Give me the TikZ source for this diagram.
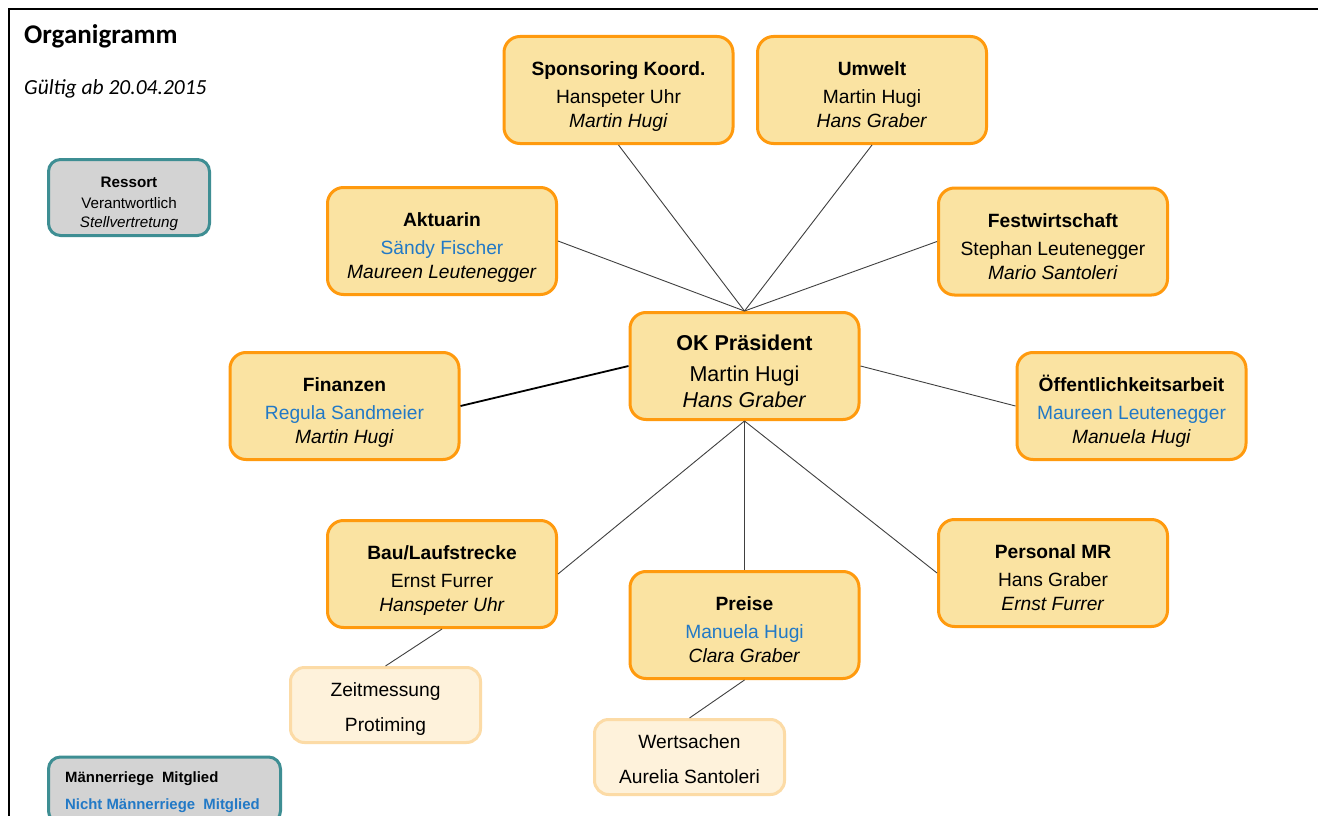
\documentclass[tikz,border=0pt]{standalone}
\usepackage{fontspec}
\setmainfont{Liberation Sans}
\newfontfamily\calibri{Carlito}
\definecolor{boxfill}{HTML}{FAE3A2}
\definecolor{boxline}{HTML}{FF9A0E}
\definecolor{subfill}{HTML}{FEF2DB}
\definecolor{subline}{HTML}{FCDBA6}
\definecolor{legfill}{HTML}{D3D3D3}
\definecolor{legline}{HTML}{3E8E93}
\definecolor{nmblue}{HTML}{2279C6}
\definecolor{conn}{HTML}{404040}
% three-line box text: lowered by #1, gap after title #2
\newcommand\orgthree[5]{\raisebox{-#1}[\height][\depth]{\begin{tabular}{@{}c@{}}\textbf{#3}\\[#2]#4\\\textit{#5}\end{tabular}}}
\newcommand\orgtwo[3]{\raisebox{-#1}[\height][\depth]{\begin{tabular}{@{}c@{}}#2\\#3\end{tabular}}}
\begin{document}
\begin{tikzpicture}[x=1pt,y=-1pt,
  mainbox/.style={draw=boxline,fill=boxfill,line width=3pt,rounded corners=16pt,
    minimum width=229pt,minimum height=107pt,align=center,inner sep=0pt,
    font=\fontsize{19.2}{24}\selectfont},
  subbox/.style={draw=subline,fill=subfill,line width=3pt,rounded corners=14pt,
    minimum width=190pt,minimum height=75pt,align=center,inner sep=0pt,
    font=\fontsize{19.2}{35}\selectfont},
  legbox/.style={draw=legline,fill=legfill,line width=3pt,rounded corners=12pt,inner sep=0pt},
  link/.style={draw=conn,line width=0.9pt},
]
\useasboundingbox (0,0) rectangle (1318,816);
\fill[white] (0,0) rectangle (1318,816);
% frame
\draw[line width=2.5pt] (9,820) -- (9,9) -- (1320,9);

% title
\node[anchor=west,font=\calibri\bfseries\fontsize{27}{32}\selectfont,inner sep=0pt] (title) at (24,36) {Organigramm};
\node[anchor=west,font=\calibri\itshape\fontsize{21.5}{26}\selectfont,inner sep=0pt] (valid) at (24,89) {Gültig ab 20.04.2015};

% legends
\node[legbox,minimum width=161pt,minimum height=76pt,align=center,font=\fontsize{15.2}{19.5}\selectfont] (legres) at (129,197.5)
  {\orgthree{6pt}{1.5pt}{Ressort}{Verantwortlich}{Stellvertretung}};
\node[legbox,minimum width=232pt,minimum height=66pt] (legmr) at (164.5,790) {};
\node[anchor=west,inner sep=0pt,font=\bfseries\fontsize{14.9}{18}\selectfont] (legmra) at (65,779) {Männerriege\ \ Mitglied};
\node[anchor=west,inner sep=0pt,font=\bfseries\fontsize{14.9}{18}\selectfont,text=nmblue] (legmrb) at (65,806) {Nicht Männerriege\ \ Mitglied};

% main boxes
\node[mainbox,font=\fontsize{21.5}{25.5}\selectfont] (ok) at (744.5,366)
  {\orgthree{8pt}{5.5pt}{OK Präsident}{Martin Hugi}{Hans Graber}};
\node[mainbox] (spon) at (618.5,90)
  {\orgthree{7pt}{4pt}{Sponsoring Koord.}{Hanspeter Uhr}{Martin Hugi}};
\node[mainbox] (umw) at (872,90)
  {\orgthree{7pt}{4pt}{Umwelt}{Martin Hugi}{Hans Graber}};
\node[mainbox] (akt) at (442,241)
  {\orgthree{7pt}{4pt}{Aktuarin}{\textcolor{nmblue}{Sändy Fischer}}{Maureen Leutenegger}};
\node[mainbox] (fest) at (1053,241.5)
  {\orgthree{7pt}{4pt}{Festwirtschaft}{Stephan Leutenegger}{Mario Santoleri}};
\node[mainbox] (fin) at (344.5,406)
  {\orgthree{7pt}{4pt}{Finanzen}{\textcolor{nmblue}{Regula Sandmeier}}{Martin Hugi}};
\node[mainbox] (oeff) at (1131.5,406)
  {\orgthree{7pt}{4pt}{Öffentlichkeitsarbeit}{\textcolor{nmblue}{Maureen Leutenegger}}{Manuela Hugi}};
\node[mainbox] (bau) at (442,574)
  {\orgthree{7pt}{4pt}{Bau/Laufstrecke}{Ernst Furrer}{Hanspeter Uhr}};
\node[mainbox] (pers) at (1053,573)
  {\orgthree{7pt}{4pt}{Personal MR}{Hans Graber}{Ernst Furrer}};
\node[mainbox] (preis) at (744.5,625)
  {\orgthree{7pt}{4pt}{Preise}{\textcolor{nmblue}{Manuela Hugi}}{Clara Graber}};

% sub boxes
\node[subbox] (zeit) at (385.5,705) {\orgtwo{2pt}{Zeitmessung}{Protiming}};
\node[subbox] (wert) at (689.5,757) {\orgtwo{2pt}{Wertsachen}{Aurelia Santoleri}};

% connectors
\draw[link] (spon.south) -- (ok.north);
\draw[link] (umw.south) -- (ok.north);
\draw[link] (akt.east) -- (ok.north);
\draw[link] (fest.west) -- (ok.north);
\draw[line width=1.8pt] (fin.east) -- (ok.west);
\draw[link] (oeff.west) -- (ok.east);
\draw[link] (ok.south) -- (bau.east);
\draw[link] (ok.south) -- (preis.north);
\draw[link] (ok.south) -- (pers.west);
\draw[link] (bau.south) -- (zeit.north);
\draw[link] (preis.south) -- (wert.north);
\end{tikzpicture}
\end{document}
